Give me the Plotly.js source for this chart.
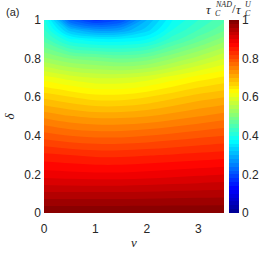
<!DOCTYPE html>
<html>
<head>
<meta charset="utf-8">
<script src="https://cdn.plot.ly/plotly-3.0.1.min.js"></script>
<style>html,body{margin:0;padding:0;background:#fff;}#chart{width:273px;height:255px;}</style>
</head>
<body>
<div id="chart"></div>
<script>
// nu grid (x) and delta grid (y)
const nuValues = [0, 0.5, 1, 1.5, 2, 2.5, 3, 3.5];
const deltaValues = [0, 0.1, 0.2, 0.3, 0.4, 0.5, 0.6, 0.7, 0.8, 0.9, 0.95, 1.0];
// ratio tau_C^NAD / tau_C^U, one row per delta, columns per nu
const ratioRows = [
  [1.000, 1.000, 1.000, 1.000, 1.000, 1.000, 1.000, 1.000],
  [0.945, 0.945, 0.945, 0.945, 0.946, 0.948, 0.949, 0.950],
  [0.890, 0.887, 0.885, 0.885, 0.888, 0.892, 0.896, 0.900],
  [0.845, 0.840, 0.835, 0.835, 0.838, 0.842, 0.846, 0.850],
  [0.790, 0.780, 0.775, 0.775, 0.780, 0.787, 0.794, 0.800],
  [0.735, 0.722, 0.715, 0.715, 0.720, 0.730, 0.740, 0.750],
  [0.675, 0.662, 0.650, 0.650, 0.660, 0.675, 0.690, 0.700],
  [0.610, 0.592, 0.580, 0.580, 0.590, 0.610, 0.630, 0.645],
  [0.525, 0.500, 0.490, 0.480, 0.490, 0.520, 0.550, 0.580],
  [0.450, 0.385, 0.365, 0.365, 0.380, 0.430, 0.470, 0.510],
  [0.425, 0.310, 0.270, 0.280, 0.330, 0.400, 0.440, 0.475],
  [0.410, 0.220, 0.170, 0.200, 0.300, 0.380, 0.420, 0.455]
];
const xTicks = [0, 1, 2, 3];
const yTicks = [0, 0.2, 0.4, 0.6, 0.8, 1];
const cbTicks = [0, 0.2, 0.4, 0.6, 0.8, 1];

const jet = [
  [0, 'rgb(0,0,143)'], [0.125, 'rgb(0,0,255)'], [0.375, 'rgb(0,255,255)'],
  [0.625, 'rgb(255,255,0)'], [0.875, 'rgb(255,0,0)'], [1, 'rgb(128,0,0)']
];

const tickFont = {family: 'Liberation Sans, Arial, sans-serif', size: 12, color: '#262626'};
const mathFont = {family: 'Liberation Serif, Times New Roman, serif', size: 13, color: '#262626'};
const mathSmall = {family: 'Liberation Serif, Times New Roman, serif', size: 8, color: '#262626'};

const trace = {
  type: 'contour',
  x: nuValues, y: deltaValues, z: ratioRows,
  colorscale: jet, zmin: 0, zmax: 1,
  contours: {coloring: 'fill', start: 0, end: 1, size: 0.02, showlines: false},
  line: {width: 0, smoothing: 1},
  colorbar: {
    x: 1.028, xanchor: 'left', y: 0.5, yanchor: 'middle',
    len: 1, lenmode: 'fraction', thickness: 10, thicknessmode: 'pixels',
    outlinewidth: 0, tickvals: cbTicks, ticktext: cbTicks.map(String),
    tickfont: tickFont, ticks: '', xpad: 0, ypad: 0
  },
  hoverinfo: 'skip'
};

function ann(text, x, y, font, xa) {
  return {text: text, x: x, y: y, xref: 'paper', yref: 'paper', showarrow: false,
          font: font, xanchor: xa || 'center', yanchor: 'middle', borderpad: 0};
}
// paper coords: plot area x 44..224 (180px), y 20..213 (193px)
function px(x) { return (x - 44) / 180; }
function py(y) { return (213 - y) / 193; }

const layout = {
  width: 273, height: 255,
  margin: {l: 44, r: 49, t: 20, b: 42},
  paper_bgcolor: '#fff', plot_bgcolor: '#fff',
  xaxis: {range: [0, 3.5], tickvals: xTicks, ticktext: xTicks.map(String), tickfont: tickFont,
          showgrid: false, zeroline: false, showline: false, ticks: '', ticklabelstandoff: 7,
          title: {text: '<i>ν</i>', font: mathFont, standoff: 2}},
  yaxis: {range: [0, 1], tickvals: yTicks, ticktext: yTicks.map(String), tickfont: tickFont,
          showgrid: false, zeroline: false, showline: false, ticks: '', ticklabelstandoff: 2,
          title: {text: '<i>δ</i>', font: mathFont, standoff: 6}},
  annotations: [
    ann('(a)', px(12), py(12), {family: 'Liberation Sans, Arial, sans-serif', size: 11, color: '#262626'}),
    ann('<i>τ</i>', px(209), py(9), mathFont),
    ann('<i>NAD</i>', px(214), py(5), mathSmall, 'left'),
    ann('<i>C</i>', px(214), py(13), mathSmall, 'left'),
    ann('/', px(234), py(8), mathFont),
    ann('<i>τ</i>', px(239), py(9), mathFont),
    ann('<i>U</i>', px(244), py(5), mathSmall, 'left'),
    ann('<i>C</i>', px(244), py(13), mathSmall, 'left')
  ]
};

Plotly.newPlot('chart', [trace], layout, {displayModeBar: false, staticPlot: true});
</script>
</body>
</html>
